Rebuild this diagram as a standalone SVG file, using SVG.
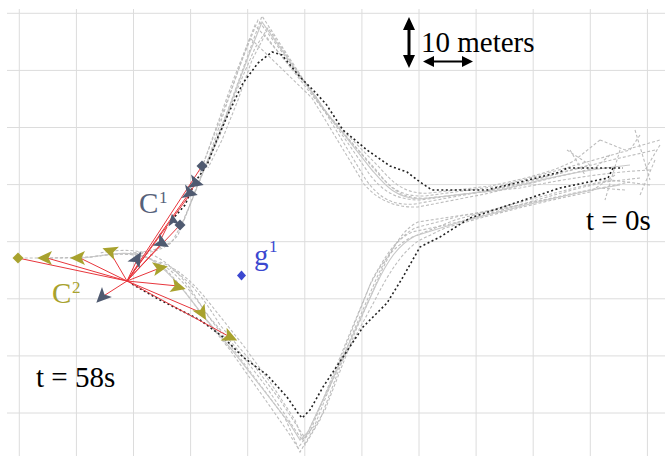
<svg xmlns="http://www.w3.org/2000/svg" width="665" height="456" viewBox="0 0 665 456">
<style>
.grid line{stroke:#dcdcdc;stroke-width:1}
.g{fill:none;stroke:#bdbdbd;stroke-width:1.1;stroke-dasharray:3 2}
.gs{fill:none;stroke:#c8c8c8;stroke-width:1.2}
.blk{fill:none;stroke:#222;stroke-width:1.6;stroke-dasharray:2 2.5}
.red{stroke:#e8363c;stroke-width:1;fill:none}
.c1{fill:#4f5a70}
.c2{fill:#a8a22e}
</style>
<defs>
<path id="tri" d="M8,0 L-7,-7 L-3.5,0 L-7,7 Z"/>
<path id="dia" d="M0,-5.5 L5.5,0 L0,5.5 L-5.5,0 Z"/>
</defs>
<rect width="665" height="456" fill="#fff"/>
<g class="grid">
<line x1="19.3" y1="9" x2="19.3" y2="456"/><line x1="76.4" y1="9" x2="76.4" y2="456"/><line x1="133.5" y1="9" x2="133.5" y2="456"/><line x1="190.6" y1="9" x2="190.6" y2="456"/><line x1="247.7" y1="9" x2="247.7" y2="456"/><line x1="304.8" y1="9" x2="304.8" y2="456"/><line x1="361.9" y1="9" x2="361.9" y2="456"/><line x1="419" y1="9" x2="419" y2="456"/><line x1="476.1" y1="9" x2="476.1" y2="456"/><line x1="533.2" y1="9" x2="533.2" y2="456"/><line x1="590.3" y1="9" x2="590.3" y2="456"/><line x1="647.4" y1="9" x2="647.4" y2="456"/>
<line x1="7" y1="13.3" x2="665" y2="13.3"/><line x1="7" y1="70.4" x2="665" y2="70.4"/><line x1="7" y1="127.5" x2="665" y2="127.5"/><line x1="7" y1="184.6" x2="665" y2="184.6"/><line x1="7" y1="241.7" x2="665" y2="241.7"/><line x1="7" y1="298.8" x2="665" y2="298.8"/><line x1="7" y1="355.9" x2="665" y2="355.9"/><line x1="7" y1="413" x2="665" y2="413"/>
</g>
<g id="connectors">
<path class="g" d="M640,135 L630,150 C600,158 560,170 500,186 L425,196 C398,197 388,185 375,170 L322,108 L262,16 L248,55 L228,110 L210,155 L200,178 L188,210 L178,235 C168,248 150,252 130,253"/>
<path class="g" d="M655,150 L620,158 C585,166 545,178 495,190 L420,200 C395,200 382,190 370,175 L318,100 L258,20 L240,65 L222,118 L208,160 L196,190 L184,220 L172,242 C160,252 145,254 125,254"/>
<path class="g" d="M600,140 L575,160 C560,170 520,180 490,186 L430,193 C405,195 392,182 380,168 L325,112 L268,28 L255,48 L236,92 L220,135 L204,170 L192,200 L180,228"/>
<path class="g" d="M567,150 L590,165 C560,172 520,184 480,192 L415,204 C390,206 378,196 366,180 L315,95 L255,25 L234,78 L216,128 L203,165"/>
<path class="g" d="M610,155 L595,168 C560,176 520,186 485,194 L418,207 C392,208 376,198 364,184 L312,98 L250,38 L232,88 L213,138 L200,172"/>
<path class="g" d="M650,170 C610,172 570,178 520,188 L428,198 C402,200 390,188 378,172 L330,118 L265,35 L252,60 L238,100 L222,140 L208,168"/>
<path class="gs" d="M630,165 C580,170 540,180 500,190 L420,199 C395,198 385,185 372,170 L320,104 L262,22 L250,52 L232,100 L215,145 L202,172"/>
<path class="g" d="M660,145 L645,170 M635,130 L650,180 M655,160 L640,195 M570,150 L585,175 M620,150 L605,200 M600,140 L625,150 L660,140"/>
<path class="g" d="M650,185 L610,180 C570,188 510,205 455,220 L410,238 C392,248 382,262 370,285 L345,345 L310,432 L298,448 L288,432 L262,395 L230,350 L200,312 C180,285 165,262 140,255 C120,251 100,257 80,258 L20,258"/>
<path class="g" d="M640,178 L605,182 C560,192 505,210 450,224 L412,232 C395,240 386,255 372,280 L348,340 L315,425 L302,440 L292,425 L265,385 L238,350 L210,318 C190,290 172,265 148,258 C128,252 110,254 90,257 L47,258"/>
<path class="g" d="M625,190 L600,188 C560,195 515,208 460,216 L415,228 C400,236 390,250 378,275 L352,335 L320,420 L305,445 L295,420 L270,382 L243,345 L215,310 C198,288 182,270 160,262"/>
<path class="g" d="M615,175 L590,192 C550,200 500,212 445,228 L420,240 C404,250 390,270 375,300 L340,365 L305,438 L280,400 L250,360 L220,325 C205,300 190,280 170,268"/>
<path class="g" d="M630,182 C590,190 530,204 470,214 L418,222 C402,230 394,246 382,270 L356,330 L325,410 L300,452 L285,418 L255,378 L228,342 L205,312 C192,290 178,268 155,256 C135,248 115,250 100,253"/>
<path class="gs" d="M620,185 C575,192 520,206 460,222 L415,236 C398,245 388,260 376,285 L346,350 L308,432 L300,440 L290,424 L262,388 L232,350 L205,318 C185,292 168,268 145,256 C125,250 105,256 80,258"/>
<path class="blk" d="M172,220 L185,205 L195,182 L207,165 L218,137 L230,110 L243,83 L258,63 L272,52 L282,55 L300,77 L313,90 L326,104 L343,130 L367,150 L390,166 L407,172 L420,182 L432,190 L487,190 L520,182 L560,172 L567,168 L623,168"/>
<path class="blk" d="M613,168 L608,178 L560,188 L470,218 L440,237 L420,247 L403,277 L387,303 L363,327 L343,357 L323,387 L310,410 L302,418 L298,413 L287,397 L267,375 L243,357 L223,337 L200,320 L160,300 L130,283"/>
<g class="red">
<line x1="127" y1="281" x2="202" y2="166"/>
<line x1="127" y1="281" x2="197" y2="182"/>
<line x1="127" y1="281" x2="191" y2="193"/>
<line x1="127" y1="281" x2="180" y2="225"/>
<line x1="127" y1="281" x2="162" y2="243"/>
<line x1="127" y1="281" x2="137" y2="260"/>
<line x1="127" y1="281" x2="102" y2="297"/>
<line x1="167" y1="227" x2="160" y2="241"/>
<line x1="127" y1="281" x2="18" y2="258"/>
<line x1="127" y1="281" x2="47" y2="258"/>
<line x1="127" y1="281" x2="80" y2="258"/>
<line x1="127" y1="281" x2="110" y2="252"/>
<line x1="127" y1="281" x2="160" y2="268"/>
<line x1="127" y1="281" x2="178" y2="286"/>
<line x1="127" y1="281" x2="202" y2="313"/>
<line x1="127" y1="281" x2="230" y2="337"/>
</g>
</g>
<g id="C1">
<use href="#dia" class="c1" transform="translate(202,166)"/>
<use href="#tri" class="c1" transform="translate(196,183) rotate(15)"/>
<use href="#tri" class="c1" transform="translate(190,193) rotate(15)"/>
<use href="#dia" class="c1" transform="translate(180,225)"/>
<use href="#tri" class="c1" transform="translate(173,220) rotate(-100) scale(0.8)"/>
<use href="#tri" class="c1" transform="translate(162,243) rotate(30)"/>
<use href="#tri" class="c1" transform="translate(137,259) rotate(-60)"/>
<use href="#tri" class="c1" transform="translate(102,297) rotate(135)"/>
<text x="139" y="213" fill="#56617a" font-family="Liberation Serif, DejaVu Serif, serif" font-size="29">C</text>
<text x="159" y="203" fill="#56617a" font-family="Liberation Serif, DejaVu Serif, serif" font-size="17">1</text>
</g>
<g id="C2">
<use href="#dia" class="c2" transform="translate(18,258)"/>
<use href="#tri" class="c2" transform="translate(45,258) rotate(180)"/>
<use href="#tri" class="c2" transform="translate(78,258) rotate(180)"/>
<use href="#tri" class="c2" transform="translate(110,251) rotate(-160)"/>
<use href="#tri" class="c2" transform="translate(160,268) rotate(-10)"/>
<use href="#tri" class="c2" transform="translate(178,287) rotate(15)"/>
<use href="#tri" class="c2" transform="translate(202,313) rotate(60)"/>
<use href="#tri" class="c2" transform="translate(230,337) rotate(25)"/>
<text x="52" y="303" fill="#a8a22e" font-family="Liberation Serif, DejaVu Serif, serif" font-size="29">C</text>
<text x="72" y="293" fill="#a8a22e" font-family="Liberation Serif, DejaVu Serif, serif" font-size="17">2</text>
</g>
<g id="g1">
<path d="M241.5,270.5 L246,275.5 L241.5,280.5 L237,275.5 Z" fill="#3b48d0"/>
<text x="254" y="265" fill="#3b48d0" font-family="Liberation Serif, DejaVu Serif, serif" font-size="29">g</text>
<text x="269" y="252" fill="#3b48d0" font-family="Liberation Serif, DejaVu Serif, serif" font-size="17">1</text>
</g>
<g id="scale">
<line x1="409" y1="27" x2="409" y2="58" stroke="#000" stroke-width="3"/>
<path d="M409,17 L415,30 L403,30 Z M409,68 L415,55 L403,55 Z" fill="#000"/>
<line x1="430" y1="61.5" x2="466" y2="61.5" stroke="#000" stroke-width="2"/>
<path d="M423,61.5 L434,56 L434,67 Z M473,61.5 L462,56 L462,67 Z" fill="#000"/>
<text x="421" y="52" font-family="Liberation Serif, DejaVu Serif, serif" font-size="29">10 meters</text>
</g>
<g id="times">
<text x="586" y="230" font-family="Liberation Serif, DejaVu Serif, serif" font-size="29">t = 0s</text>
<text x="36" y="387" font-family="Liberation Serif, DejaVu Serif, serif" font-size="29">t = 58s</text>
</g>
</svg>
